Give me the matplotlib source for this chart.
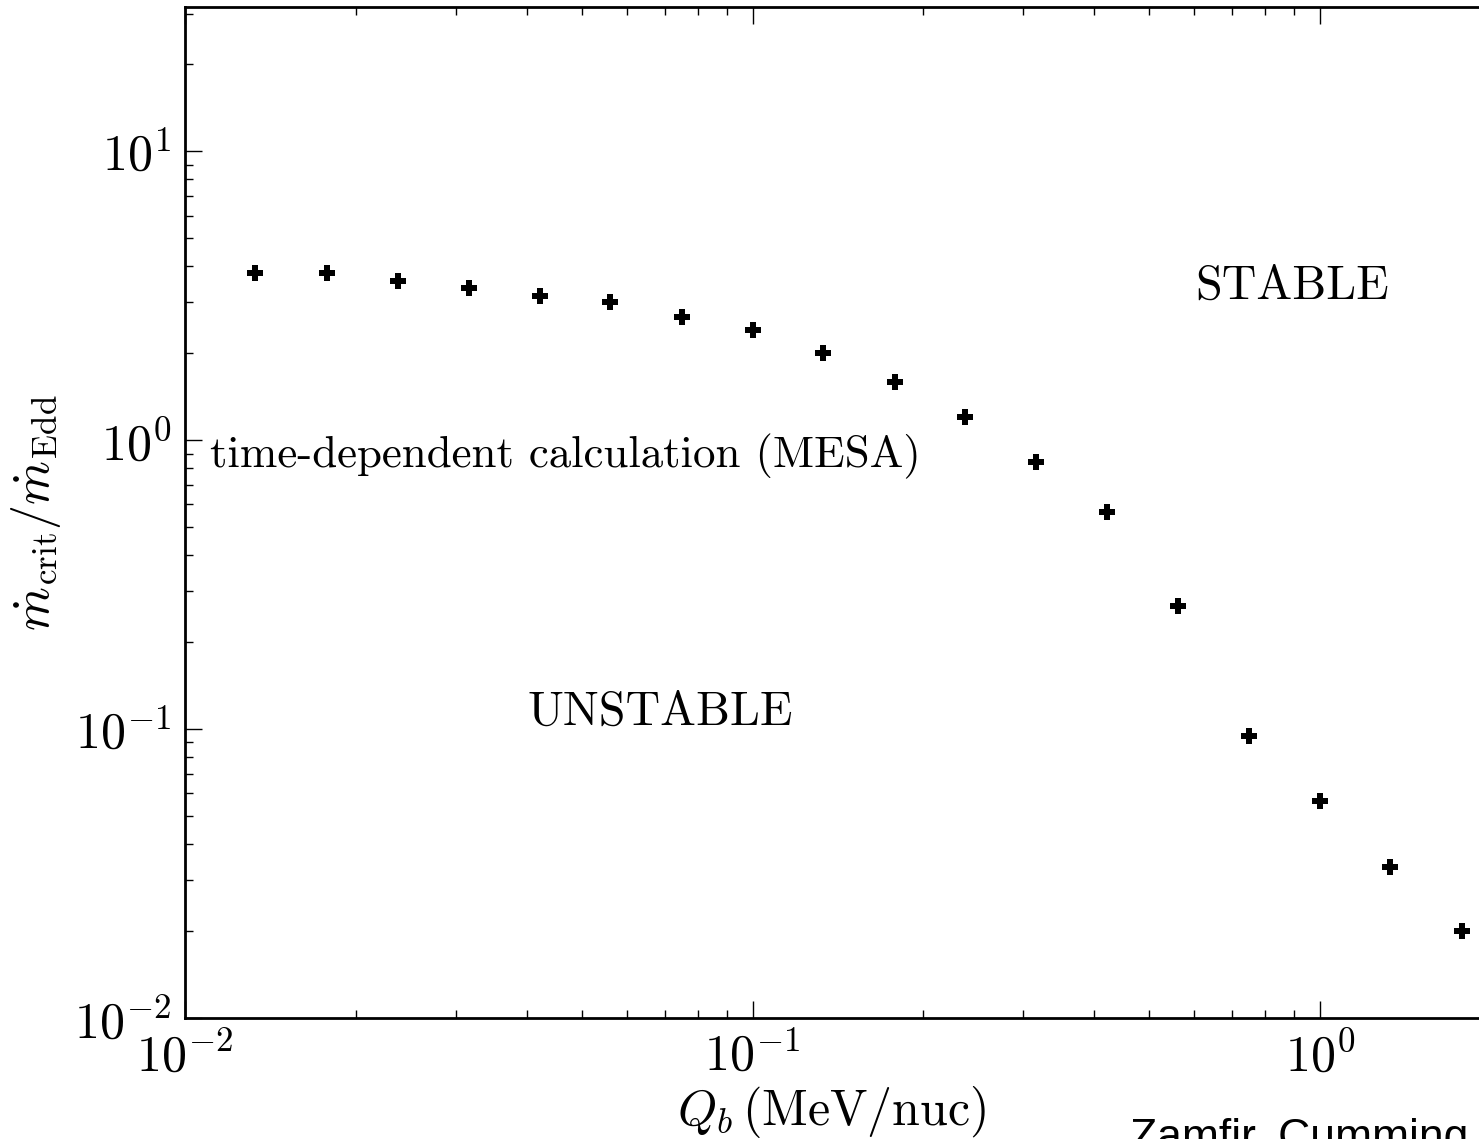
import matplotlib
matplotlib.use('Agg')
import matplotlib.pyplot as plt
import numpy as np

plt.rcParams['font.family'] = 'serif'
plt.rcParams['font.serif'] = ['cmr10']
plt.rcParams['mathtext.fontset'] = 'cm'
plt.rcParams['axes.unicode_minus'] = False
plt.rcParams['axes.formatter.use_mathtext'] = True

# critical accretion rate vs base heat flux
Qb = [0.0133, 0.0178, 0.0237, 0.0316, 0.0422, 0.0562, 0.0750, 0.100, 0.133,
      0.178, 0.237, 0.316, 0.422, 0.562, 0.750, 1.00, 1.33, 1.78]
mdot_crit = [3.78, 3.78, 3.57, 3.38, 3.17, 3.02, 2.68, 2.40, 2.01,
             1.59, 1.20, 0.841, 0.565, 0.267, 0.0944, 0.0562, 0.0334, 0.0200]

W, H = 1479, 1139
fig = plt.figure(figsize=(W / 100, H / 100), dpi=100)
# axes run past the right edge of the figure (picture is cropped)
left, bottom, top = 185 / W, 1 - 1018 / H, 1 - 7 / H
ax = fig.add_axes([left, bottom, 3 * 567.5 / W, top - bottom])

ax.plot(Qb, mdot_crit, 'P', color='k', markersize=12, markeredgewidth=0)

ax.set_xscale('log')
ax.set_yscale('log')
ax.set_xlim(1e-2, 10)
ax.set_ylim(1e-2, 10 ** 1.5)

for s in ax.spines.values():
    s.set_linewidth(2)
ax.tick_params(which='both', direction='in', top=True, right=True, labelsize=36, pad=10)
ax.tick_params(which='major', length=12, width=1)
ax.tick_params(which='minor', length=6, width=1)

ax.set_xlabel(r'$Q_b\,(\mathrm{MeV/nuc})$', fontsize=36)
ax.xaxis.set_label_coords(0.380, -0.065)
ax.set_ylabel(r'$\dot m_{\rm crit}/\dot m_{\rm Edd}$', fontsize=36, labelpad=8)

ax.text(0.01107, 0.883, 'time-dependent calculation (MESA)', fontsize=32.4, va='center', ha='left')
ax.text(0.602, 3.40, 'STABLE', fontsize=34.5, va='center', ha='left')
ax.text(0.0402, 0.114, 'UNSTABLE', fontsize=34.5, va='center', ha='left')

fig.text(1130 / W, 1 - 1118 / H, 'Zamfir, Cumming & Galloway', fontsize=32,
         family='Liberation Sans', va='top', ha='left')

fig.savefig('out.png', dpi=100)
